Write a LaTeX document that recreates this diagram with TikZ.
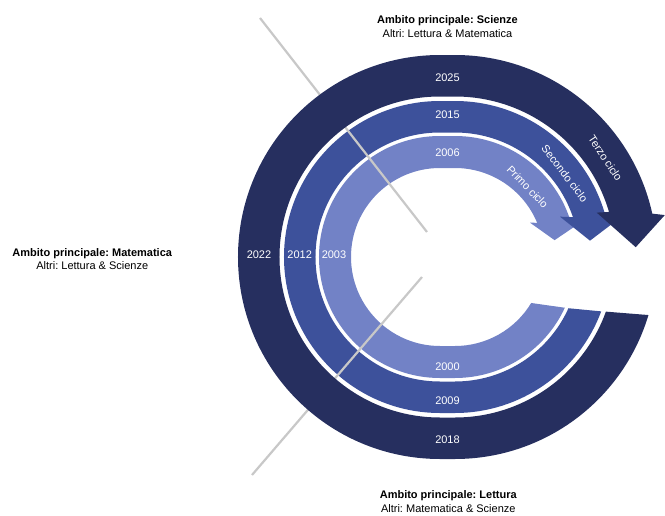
\documentclass[tikz,border=0pt]{standalone}
\usepackage{fontspec}
\setmainfont{Liberation Sans}
\usetikzlibrary{calc}
\definecolor{terzo}{HTML}{262F5F}
\definecolor{secondo}{HTML}{3D519B}
\definecolor{primo}{HTML}{7282C6}
\definecolor{grigio}{HTML}{C8C8C8}
\frenchspacing

\begin{document}
\begin{tikzpicture}[x=1pt,y=1pt,font=\fontsize{11}{13.5}\selectfont]
	\tikzstyle{year}=[text=white]
	\tikzstyle{ciclo}=[text=white,inner sep=1pt]
	\tikzstyle{ambito}=[align=center]
	\tikzstyle{asse}=[draw=grigio,line width=2.2pt]
	\useasboundingbox (-440,-258) rectangle (225,257);
	\coordinate (L) at (0,0);
	\coordinate (R) at (15,0);
	\coordinate (a1) at (-180,239);
	\coordinate (a2) at (-13,25);
	\coordinate (b1) at (-188,-218);
	\coordinate (b2) at (-18,-20);
	\fill[primo] ($(R)+(-31.1:89)$) -- ($(R)+(-24.8:121)$) arc[start angle=-24.8,end angle=-90,radius=121] -- (0,-121) arc[start angle=-90,end angle=-270,radius=121] -- (15,121) arc[start angle=90,end angle=16,radius=121] -- ($(R)+(15:128)$) -- ($(R)+(9.6:101)$) -- ($(R)+(24.6:82.5)$) -- ($(R)+(22.6:89)$) arc[start angle=22.6,end angle=90,radius=89] -- (0,89) arc[start angle=90,end angle=270,radius=89] -- (15,-89) arc[start angle=-90,end angle=-31.1,radius=89] -- cycle;
	\fill[secondo] ($(R)+(-24.3:124.5)$) -- ($(R)+(-20.4:156)$) arc[start angle=-20.4,end angle=-90,radius=156] -- (0,-156) arc[start angle=-90,end angle=-270,radius=156] -- (15,156) arc[start angle=90,end angle=14.3,radius=156] -- ($(R)+(13.1:168)$) -- ($(R)+(6.9:136)$) -- ($(R)+(21:112.5)$) -- ($(R)+(18.7:124.5)$) arc[start angle=18.7,end angle=90,radius=124.5] -- (0,124.5) arc[start angle=90,end angle=270,radius=124.5] -- (15,-124.5) arc[start angle=-90,end angle=-24.3,radius=124.5] -- cycle;
	\draw[asse] (a1) -- (a2);
	\draw[asse] (b1) -- (b2);
	\fill[terzo] ($(R)+(-19.9:160.5)$) -- ($(R)+(-16.7:202)$) arc[start angle=-16.7,end angle=-90,radius=202] -- (0,-202) arc[start angle=-90,end angle=-270,radius=202] -- (15,202) arc[start angle=90,end angle=12.4,radius=202] -- ($(R)+(11.3:214)$) -- ($(R)+(3.1:181)$) -- ($(R)+(17.4:148.5)$) -- ($(R)+(16.3:160.5)$) arc[start angle=16.3,end angle=90,radius=160.5] -- (0,160.5) arc[start angle=90,end angle=270,radius=160.5] -- (15,-160.5) arc[start angle=-90,end angle=-19.9,radius=160.5] -- cycle;
	\node[year](y2025) at (7.5,179.7) {2025};
	\node[year](y2015) at (7.5,142) {2015};
	\node[year](y2006) at (7.5,104.7) {2006};
	\node[year](y2000) at (7.5,-109.7) {2000};
	\node[year](y2009) at (7.5,-144) {2009};
	\node[year](y2018) at (7.5,-183) {2018};
	\node[year](y2022) at (-181,2) {2022};
	\node[year](y2012) at (-140.3,2) {2012};
	\node[year](y2003) at (-106,2) {2003};
	\node[ciclo,rotate=-56.7](terzo) at ($(R)+(33.3:180)$) {Terzo ciclo};
	\node[ciclo,rotate=-52.7](secondo) at ($(R)+(37.3:138)$) {Secondo ciclo};
	\node[ciclo,rotate=-46](primo) at ($(R)+(44:101)$) {Primo ciclo};
	\node[ambito](scienze) at (7.5,230.3) {\textbf{Ambito principale: Scienze}\\Altri: Lettura \& Matematica};
	\node[ambito](lettura) at (8.3,-244.7) {\textbf{Ambito principale: Lettura}\\Altri: Matematica \& Scienze};
	\node[ambito](matematica) at (-347.7,-1.9) {\textbf{Ambito principale: Matematica}\\Altri: Lettura \& Scienze};
\end{tikzpicture}
\end{document}
